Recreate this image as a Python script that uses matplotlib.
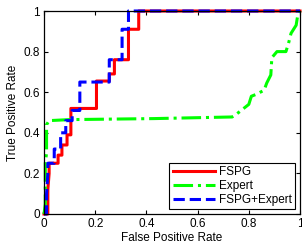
import matplotlib
matplotlib.use("Agg")
import matplotlib.pyplot as plt

plt.rcParams['font.family'] = ['Liberation Sans', 'DejaVu Sans']

# ROC curves (false positive rate, true positive rate)
fspg_fpr = [0, 0.015, 0.015, 0.02, 0.02, 0.055, 0.055, 0.07, 0.07, 0.09, 0.09, 0.105, 0.105,
            0.205, 0.205, 0.255, 0.255, 0.275, 0.275, 0.33, 0.33, 0.37, 0.37, 1.0]
fspg_tpr = [0, 0, 0.12, 0.2, 0.25, 0.25, 0.29, 0.29, 0.34, 0.34, 0.39, 0.39, 0.52,
            0.52, 0.655, 0.655, 0.69, 0.69, 0.76, 0.76, 0.91, 0.91, 1.0, 1.0]

expert_fpr = [0, 0.005, 0.005, 0.01, 0.01, 0.02, 0.1, 0.43, 0.735, 0.75, 0.80, 0.81, 0.83,
              0.86, 0.87, 0.886, 0.89, 0.91, 0.945, 0.955, 0.965, 0.985, 0.99, 1.0]
expert_tpr = [0, 0.05, 0.25, 0.3, 0.44, 0.46, 0.465, 0.47, 0.478, 0.49, 0.54, 0.58, 0.59,
              0.61, 0.645, 0.685, 0.77, 0.80, 0.80, 0.84, 0.89, 0.93, 0.97, 1.0]

combo_fpr = [0, 0.01, 0.01, 0.015, 0.015, 0.04, 0.04, 0.065, 0.065, 0.085, 0.085, 0.11, 0.11,
             0.14, 0.14, 0.255, 0.255, 0.305, 0.305, 0.33, 0.33, 1.0]
combo_tpr = [0, 0, 0.1, 0.2, 0.25, 0.25, 0.32, 0.32, 0.40, 0.40, 0.46, 0.46, 0.51,
             0.51, 0.65, 0.65, 0.76, 0.76, 0.91, 0.91, 1.0, 1.0]

fig = plt.figure(figsize=(3.02, 2.52), dpi=100)
ax = fig.add_axes([44 / 302, 38 / 252, 256 / 302, 203 / 252])

ax.plot(fspg_fpr, fspg_tpr, color='#ff0000', lw=2.2, ls='-', label='FSPG', clip_on=False)
ax.plot(expert_fpr, expert_tpr, color='#00ff00', lw=2.2, ls='-.', label='Expert', clip_on=False)
ax.plot(combo_fpr, combo_tpr, color='#0000ff', lw=2.2, ls='--', label='FSPG+Expert', clip_on=False)

ax.set_xlim(0, 1)
ax.set_ylim(0, 1)
ax.set_xticks([0, 0.2, 0.4, 0.6, 0.8, 1])
ax.set_yticks([0, 0.2, 0.4, 0.6, 0.8, 1])
ax.set_xticklabels(['0', '0.2', '0.4', '0.6', '0.8', '1'])
ax.set_yticklabels(['0', '0.2', '0.4', '0.6', '0.8', '1'])
ax.tick_params(direction='in', top=True, right=True, length=3, width=0.8,
               labelsize=8.5, pad=3)
for s in ax.spines.values():
    s.set_linewidth(0.9)

ax.set_xlabel('False Positive Rate', fontsize=8.5, labelpad=1)
ax.set_ylabel('True Positive Rate', fontsize=8.5, labelpad=3)

leg = ax.legend(loc='lower right', fontsize=8.5, handlelength=3.6, handletextpad=0.3,
                labelspacing=0.15, borderpad=0.3, fancybox=False, framealpha=1,
                edgecolor='black', borderaxespad=0.4)
leg.get_frame().set_linewidth(0.8)

fig.savefig('out.png', dpi=100)
